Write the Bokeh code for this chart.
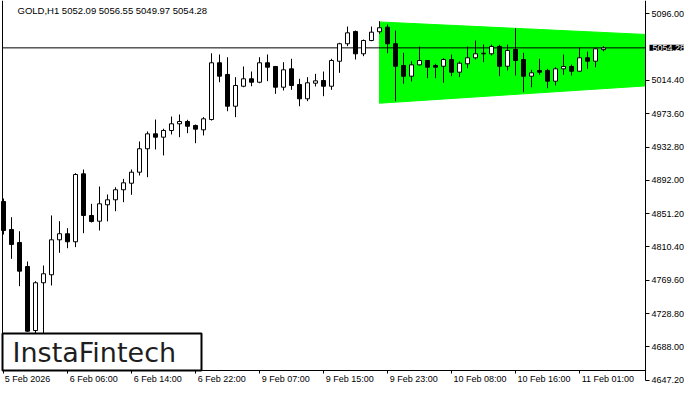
from bokeh.plotting import figure
from bokeh.models import (Range1d, LinearAxis, FixedTicker, NumeralTickFormatter,
                          Label, BoxAnnotation, ColumnDataSource)
from bokeh.embed import file_html
from bokeh.resources import INLINE

# ---------------- data ----------------
title_text = "GOLD,H1  5052.09 5056.55 5049.97 5054.28"
bid_price = 5054.28
bid_text = "5054.28"

opens = [4866.1, 4831.8, 4815.9, 4786.5, 4708.1, 4766.6, 4776.4, 4819.2, 4826.6, 4816.8,
         4900.0, 4849.0, 4842.0, 4862.1, 4868.2, 4880.5, 4888.5, 4902.0, 4930.7, 4949.0,
         4944.9, 4953.1, 4961.3, 4964.1, 4959.2, 4953.9, 4966.5, 5036.0, 5021.7, 4982.8,
         5007.3, 5016.4, 5012.2, 5036.0, 5031.5, 5006.1, 5028.6, 5009.4, 4991.9, 5011.0,
         5014.3, 5007.3, 5037.9, 5059.3, 5074.3, 5047.0, 5063.3, 5074.0, 5079.6, 5059.3,
         5032.7, 5019.6, 5033.5, 5038.8, 5032.7, 5031.8, 5040.0, 5024.5, 5034.8, 5042.1,
         5047.0, 5047.0, 5056.0, 5031.8, 5052.3, 5040.0, 5019.6, 5026.6, 5026.6, 5013.5,
         5028.6, 5031.5, 5025.7, 5042.1, 5038.0, 5052.09]
highs = [4869.8, 4846.9, 4829.7, 4792.6, 4768.5, 4787.7, 4849.0, 4842.0, 4833.4, 4900.8,
         4905.3, 4863.3, 4884.5, 4874.7, 4883.6, 4893.9, 4905.3, 4939.6, 4951.9, 4966.5,
         4955.2, 4970.2, 4972.7, 4966.2, 4960.4, 4969.4, 5047.7, 5046.2, 5042.8, 5018.4,
         5031.5, 5025.3, 5042.8, 5046.2, 5032.0, 5036.7, 5040.9, 5016.4, 5018.4, 5022.5,
         5025.3, 5040.9, 5060.5, 5080.4, 5075.5, 5064.5, 5080.4, 5086.9, 5082.9, 5075.5,
         5048.2, 5037.9, 5056.0, 5038.8, 5034.8, 5041.6, 5046.2, 5037.6, 5056.0, 5063.3,
         5058.4, 5058.4, 5058.0, 5058.4, 5078.4, 5048.2, 5027.4, 5040.9, 5028.6, 5030.6,
         5046.2, 5033.9, 5054.4, 5049.8, 5054.4, 5056.55]
lows = [4825.7, 4795.9, 4762.4, 4706.5, 4680.0, 4688.0, 4763.2, 4803.3, 4808.9, 4810.2,
        4827.3, 4840.4, 4830.6, 4841.8, 4854.2, 4865.3, 4874.3, 4898.0, 4895.9, 4929.8,
        4922.5, 4948.2, 4944.9, 4949.8, 4937.5, 4947.0, 4965.3, 5012.2, 4976.7, 4969.4,
        5006.1, 5007.3, 5011.0, 5013.5, 4998.0, 5002.1, 5002.9, 4982.8, 4989.0, 5007.0,
        4995.1, 5002.9, 5023.7, 5056.3, 5040.0, 5044.1, 5062.4, 5071.5, 5047.7, 4989.0,
        5010.3, 5013.1, 5032.7, 5017.1, 5017.1, 5011.5, 5019.6, 5018.4, 5029.4, 5040.0,
        5036.7, 5044.9, 5019.6, 5026.6, 5020.4, 5000.0, 5006.1, 5021.3, 5004.9, 5008.2,
        5021.3, 5020.4, 5025.3, 5028.6, 5030.6, 5049.97]
closes = [4830.6, 4813.5, 4780.8, 4707.3, 4766.6, 4777.6, 4819.2, 4826.6, 4816.8, 4899.2,
          4849.0, 4841.6, 4863.3, 4868.2, 4880.5, 4889.0, 4902.0, 4930.7, 4949.0, 4944.9,
          4953.1, 4961.3, 4964.1, 4958.3, 4954.7, 4967.4, 5036.0, 5019.6, 4982.8, 5008.2,
          5016.4, 5012.2, 5036.0, 5030.6, 5006.1, 5027.4, 5008.2, 4991.9, 5011.5, 5013.9,
          5007.3, 5038.8, 5059.3, 5072.7, 5047.0, 5063.3, 5073.5, 5078.9, 5059.3, 5031.8,
          5019.6, 5033.5, 5038.8, 5030.6, 5030.6, 5040.0, 5024.5, 5035.5, 5042.1, 5047.0,
          5047.7, 5056.0, 5031.8, 5051.1, 5038.8, 5019.6, 5023.7, 5024.5, 5013.5, 5028.6,
          5031.5, 5025.7, 5042.1, 5038.0, 5053.1, 5054.28]

x_tick_idx = [0, 8, 16, 24, 32, 40, 48, 56, 64, 72]
x_tick_labels = ["5 Feb 2026", "6 Feb 06:00", "6 Feb 14:00", "6 Feb 22:00", "9 Feb 07:00",
                 "9 Feb 15:00", "9 Feb 23:00", "10 Feb 08:00", "10 Feb 16:00", "11 Feb 01:00"]
y_ticks = [4647.20, 4688.00, 4728.80, 4769.60, 4810.40, 4851.20, 4892.00,
           4932.80, 4973.60, 5014.40, 5096.00]

# symmetrical triangle pattern: start bar and right edge, upper / lower bounds
tri_x = [47, 80.25, 80.25, 47]
tri_y = [5086.0, 5070.7, 5007.7, 4986.5]

# ---------------- layout (pixels -> data) ----------------
W, H = 684, 384
PX_PER_BAR = 8.0
PX_PER_PRICE = 0.8165
X0 = -0.375
X1 = X0 + W / PX_PER_BAR
Y1 = 5096.0 + 13.3 / PX_PER_PRICE
Y0 = Y1 - H / PX_PER_PRICE


def px_x(px):
    return X0 + px / PX_PER_BAR


def px_y(py):
    return Y1 - py / PX_PER_PRICE


X_LEFT = px_x(2)       # left frame line
X_RIGHT = px_x(645)    # right frame / price axis
Y_BOTTOM = px_y(370)   # bottom frame / time axis

FONT = "Liberation Sans"
AFS = "9px"

p = figure(width=W, height=H, x_range=Range1d(X0, X1), y_range=Range1d(Y0, Y1),
           output_backend="svg", toolbar_location=None,
           x_axis_location=None, y_axis_location=None, min_border=0,
           background_fill_color="white", border_fill_color="white")
p.xgrid.grid_line_color = None
p.ygrid.grid_line_color = None
p.outline_line_color = None

# triangle pattern
p.patch(tri_x, tri_y, fill_color="#00FF00", line_color="#00FF00", line_width=1)

# bid line
p.segment(x0=[X_LEFT], y0=[bid_price], x1=[X_RIGHT], y1=[bid_price],
          line_color="black", line_width=1)

# candles
idx = list(range(len(opens)))
src = ColumnDataSource(dict(
    x=idx, o=opens, h=highs, l=lows, c=closes,
    top=[max(o, c) for o, c in zip(opens, closes)],
    bottom=[min(o, c) for o, c in zip(opens, closes)],
    fill=["white" if c >= o else "black" for o, c in zip(opens, closes)],
))
p.segment(x0="x", y0="l", x1="x", y1="h", source=src, line_color="black", line_width=1)
p.vbar(x="x", top="top", bottom="bottom", width=0.5, source=src,
       fill_color="fill", line_color="black", line_width=1)

# right price axis (frame right edge)
yaxis = LinearAxis(ticker=FixedTicker(ticks=y_ticks, minor_ticks=[]),
                   formatter=NumeralTickFormatter(format="0.00"),
                   fixed_location=X_RIGHT, bounds=(4647.0, Y1),
                   major_tick_out=4, major_tick_in=0, minor_tick_out=0, minor_tick_in=0,
                   major_label_standoff=2, axis_line_color="black",
                   major_tick_line_color="black",
                   major_label_text_font=FONT, major_label_text_font_size=AFS,
                   major_label_text_color="black")
p.add_layout(yaxis, "right")

# left frame line
left_line = LinearAxis(ticker=FixedTicker(ticks=[], minor_ticks=[]),
                       fixed_location=X_LEFT, bounds=(Y_BOTTOM, Y1),
                       major_tick_out=0, major_tick_in=0, minor_tick_out=0, minor_tick_in=0,
                       axis_line_color="black")
p.add_layout(left_line, "left")

# bottom time axis: minor ticks mark the times, labels sit to the right of them
label_pos = [round(i + (2 + 0.5 * len(s) * 4.4) / PX_PER_BAR, 2)
             for i, s in zip(x_tick_idx, x_tick_labels)]
xaxis = LinearAxis(ticker=FixedTicker(ticks=label_pos, minor_ticks=x_tick_idx),
                   major_label_overrides={pos: s for pos, s in zip(label_pos, x_tick_labels)},
                   fixed_location=Y_BOTTOM, bounds=(X_LEFT, X_RIGHT),
                   major_tick_out=0, major_tick_in=0, minor_tick_out=3, minor_tick_in=0,
                   major_label_standoff=0, axis_line_color="black",
                   major_tick_line_color=None, minor_tick_line_color="black",
                   major_label_text_font=FONT, major_label_text_font_size=AFS,
                   major_label_text_color="black")
p.add_layout(xaxis, "below")

# title
p.add_layout(Label(x=X0, y=Y1, x_offset=17, y_offset=-4, text=title_text,
                   text_baseline="top", text_align="left",
                   text_font=FONT, text_font_size="9.5px", text_color="black"))

# current price box on the axis
p.add_layout(Label(x=X_RIGHT, y=bid_price, x_offset=4, y_offset=0, text=bid_text,
                   text_baseline="middle", text_align="left",
                   text_font=FONT, text_font_size=AFS, text_color="white",
                   background_fill_color="black",
                   padding=dict(left=3, right=4, top=0, bottom=0)))

# logo box
p.add_layout(BoxAnnotation(left=X_LEFT, right=px_x(201), bottom=Y_BOTTOM, top=px_y(333),
                           fill_color="white", fill_alpha=1.0,
                           line_color="black", line_width=2, line_alpha=1.0))
p.add_layout(Label(x=px_x(12), y=px_y(352), text="InstaFintech",
                   text_align="left", text_baseline="middle",
                   text_font="DejaVu Sans", text_font_size="27px", text_color="#1e1e1e"))

open("out.html", "w").write(file_html(p, INLINE))
